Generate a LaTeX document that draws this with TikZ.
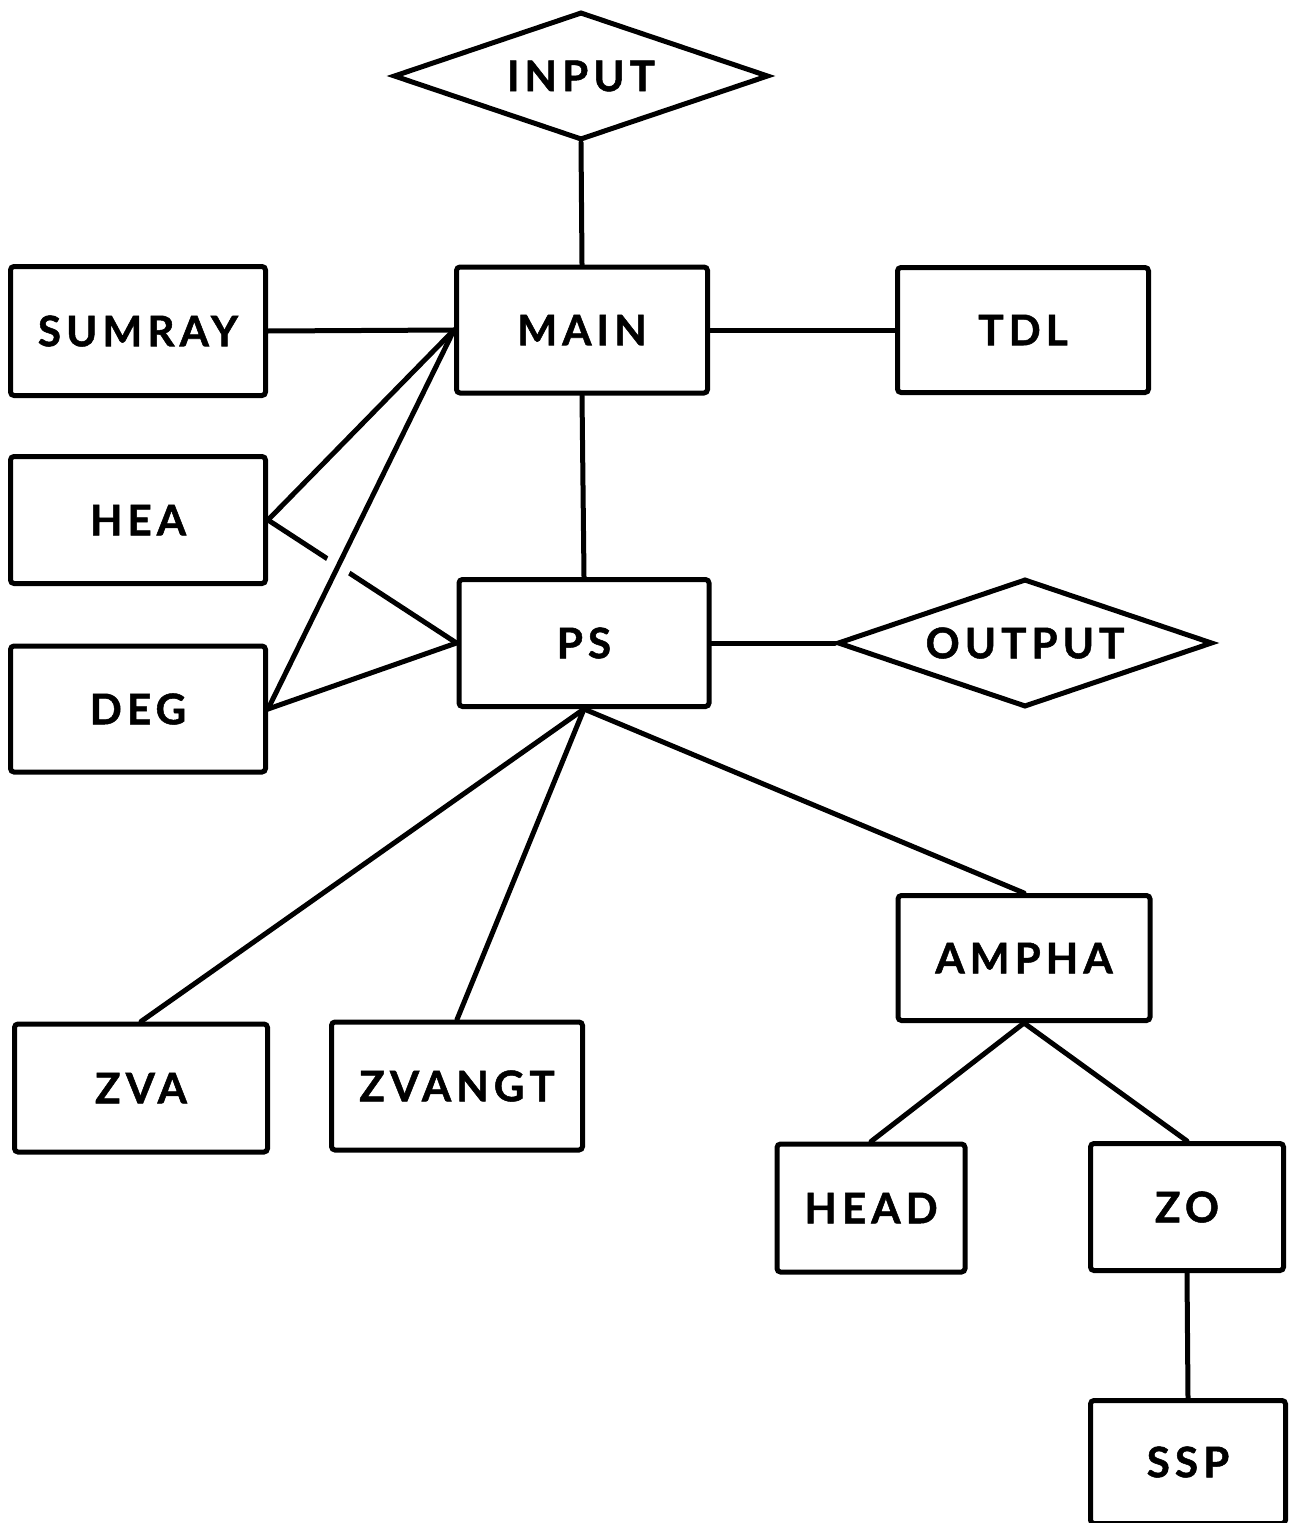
\documentclass[tikz,border=0pt]{standalone}
\usepackage{fontspec}
\newfontfamily\chartfont{Lato}[LetterSpace=12.0, FakeBold=1.2]
\usepackage{tikz}
\usetikzlibrary{shapes.geometric, calc, positioning}
\tikzset{
  mod/.style   = {rectangle, rounded corners=1pt, draw=black, line width=0.5mm,
                  fill=white, align=center, font=\chartfont\bfseries\fontsize{12}{14}\selectfont,
                  inner sep=0pt},
  io/.style    = {diamond, aspect=2.9, draw=black, line width=0.5mm, fill=white,
                  minimum width=37.5mm, minimum height=12.8mm, align=center,
                  font=\chartfont\bfseries\fontsize{12}{14}\selectfont, inner sep=0pt},
  ln/.style    = {draw=black, line width=0.5mm, line cap=round},
  gap/.style   = {draw=white, line width=2.6mm},
}

\begin{document}
\begin{tikzpicture}[x=0.1mm, y=-0.1mm]
  \useasboundingbox (0,0) rectangle (1292,1523);

  \node[io] (input) at (581,76) {INPUT};
  \node[mod, minimum width=25.5mm, minimum height=12.9mm] (sumray) at (138,331) {SUMRAY};
  \node[mod, minimum width=25.1mm, minimum height=12.6mm] (main) at (582,330) {MAIN};
  \node[mod, minimum width=25.1mm, minimum height=12.5mm] (tdl) at (1023,330) {TDL};
  \node[mod, minimum width=25.5mm, minimum height=12.7mm] (hea) at (138,520) {HEA};
  \node[mod, minimum width=25.0mm, minimum height=12.7mm] (ps) at (584,643) {PS};
  \node[io] (output) at (1025,643) {OUTPUT};
  \node[mod, minimum width=25.5mm, minimum height=12.6mm] (deg) at (138,709) {DEG};
  \node[mod, minimum width=25.3mm, minimum height=12.8mm] (zva) at (141,1088) {ZVA};
  \node[mod, minimum width=25.1mm, minimum height=12.8mm] (zvangt) at (457,1086) {ZVANGT};
  \node[mod, minimum width=25.2mm, minimum height=12.5mm] (ampha) at (1024,958) {AMPHA};
  \node[mod, minimum width=18.8mm, minimum height=12.8mm] (head) at (871,1208) {HEAD};
  \node[mod, minimum width=19.3mm, minimum height=12.7mm] (zo) at (1187,1207) {ZO};
  \node[mod, minimum width=19.5mm, minimum height=12.3mm] (ssp) at (1188,1462) {SSP};

  % calls
  \draw[ln] (input.south) -- (main.north);
  \draw[ln] (sumray.east) -- (main.west);
  \draw[ln] (main.east) -- (tdl.west);
  \draw[ln] (hea.east) -- (main.west);
  \draw[ln] (hea.east) -- (ps.west);
  \draw[gap] ($(deg.east)!0.33!(main.west)$) -- ($(deg.east)!0.42!(main.west)$);
  \draw[ln] (deg.east) -- (main.west);
  \draw[ln] (deg.east) -- (ps.west);
  \draw[ln] (main.south) -- (ps.north);
  \draw[ln] (ps.east) -- (output.west);
  \draw[ln] (ps.south) -- (zva.north);
  \draw[ln] (ps.south) -- (zvangt.north);
  \draw[ln] (ps.south) -- (ampha.north);
  \draw[ln] (ampha.south) -- (head.north);
  \draw[ln] (ampha.south) -- (zo.north);
  \draw[ln] (zo.south) -- (ssp.north);
\end{tikzpicture}
\end{document}
